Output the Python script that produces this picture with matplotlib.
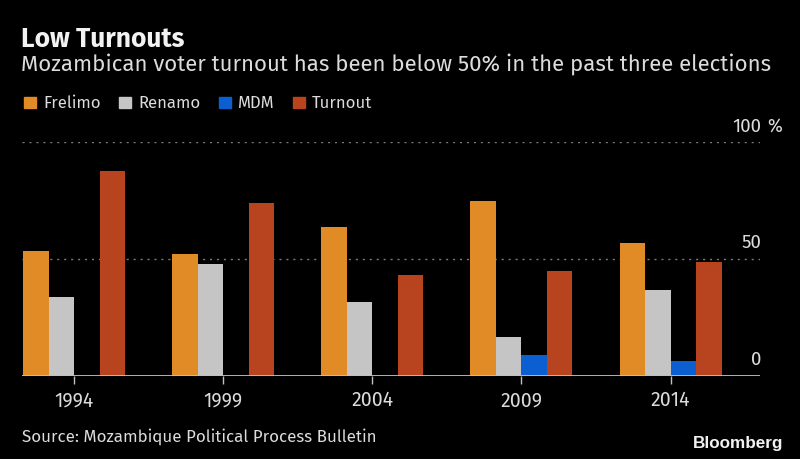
import numpy as np
import matplotlib
matplotlib.use('Agg')
import matplotlib.pyplot as plt
from matplotlib.patches import Patch

plt.rcParams['font.family'] = ['Fira Sans', 'DejaVu Sans']

# data (percent)
years = ['1994', '1999', '2004', '2009', '2014']
frelimo = [53.3, 52.3, 63.7, 74.7, 57.0]
renamo = [33.7, 47.7, 31.7, 16.4, 36.6]
mdm = [0, 0, 0, 8.6, 6.4]
turnout = [87.9, 74.0, 43.3, 44.6, 48.6]

series = [('Frelimo', frelimo, '#e08b26'),
          ('Renamo', renamo, '#c5c5c5'),
          ('MDM', mdm, '#0b5fd0'),
          ('Turnout', turnout, '#b7441e')]

bg = '#000000'
fg = '#dcdcdc'
W, H = 800, 459

fig = plt.figure(figsize=(8, 4.59), dpi=100, facecolor=bg)
ax = fig.add_axes([22 / W, 1 - 375.5 / H, 738 / W, 233.2 / H], facecolor=bg)

x = np.arange(len(years))
w = 0.171
for i, (name, vals, col) in enumerate(series):
    ax.bar(x + (i - 1.5) * w, vals, width=w, color=col, zorder=3)

ax.set_ylim(0, 100)
ax.set_xlim(-2 * w - 0.008, 4.60)

# dotted gridlines
for v in [50, 100]:
    ax.axhline(v, color='#7a7a7a', lw=1.0, ls=(0, (1.5, 3.5)), zorder=1)
ax.axhline(0, color='#c0c0c0', lw=1.3, zorder=4)

# value labels sit above the lines at the right edge
for v, lab in [(0, '0'), (50, '50'), (100, '100')]:
    ax.annotate(lab, xy=(1, v), xycoords=('axes fraction', 'data'),
                xytext=(1, 7.5), textcoords='offset points',
                ha='right', va='baseline', color=fg, fontsize=13.5)
ax.annotate('%', xy=(1, 100), xycoords=('axes fraction', 'data'),
            xytext=(5.5, 7.5), textcoords='offset points',
            ha='left', va='baseline', color=fg, fontsize=13)

for s in ax.spines.values():
    s.set_visible(False)
ax.set_yticks([])
ax.set_xticks(x)
ax.set_xticklabels(years, color=fg, fontsize=14)
ax.tick_params(axis='x', length=6, width=1, color='#c0c0c0', pad=5)

fig.text(21 / W, 1 - 46.7 / H, 'Low Turnouts', color='#f2f2f2', fontsize=19,
         fontweight='bold', va='baseline')
fig.text(21 / W, 1 - 70.5 / H,
         'Mozambican voter turnout has been below 50% in the past three elections',
         color=fg, fontsize=16, va='baseline')

handles = [Patch(color=c, label=n) for n, _, c in series]
leg = fig.legend(handles=handles, loc='center left', bbox_to_anchor=(24 / W, 1 - 103.5 / H),
                 ncol=4, frameon=False, borderpad=0, borderaxespad=0,
                 handlelength=0.7, handleheight=0.7, handletextpad=0.45,
                 columnspacing=1.1, fontsize=12)
for t in leg.get_texts():
    t.set_color(fg)

fig.text(22 / W, 1 - 441.5 / H, 'Source: Mozambique Political Process Bulletin',
         color=fg, fontsize=12.2, va='baseline')
fig.text(783 / W, 1 - 448 / H, 'Bloomberg', color='#f2f2f2', fontsize=12.3,
         fontweight='bold', ha='right', va='baseline',
         family=['Liberation Sans', 'DejaVu Sans'])

fig.savefig('out.png', dpi=100, facecolor=bg)
